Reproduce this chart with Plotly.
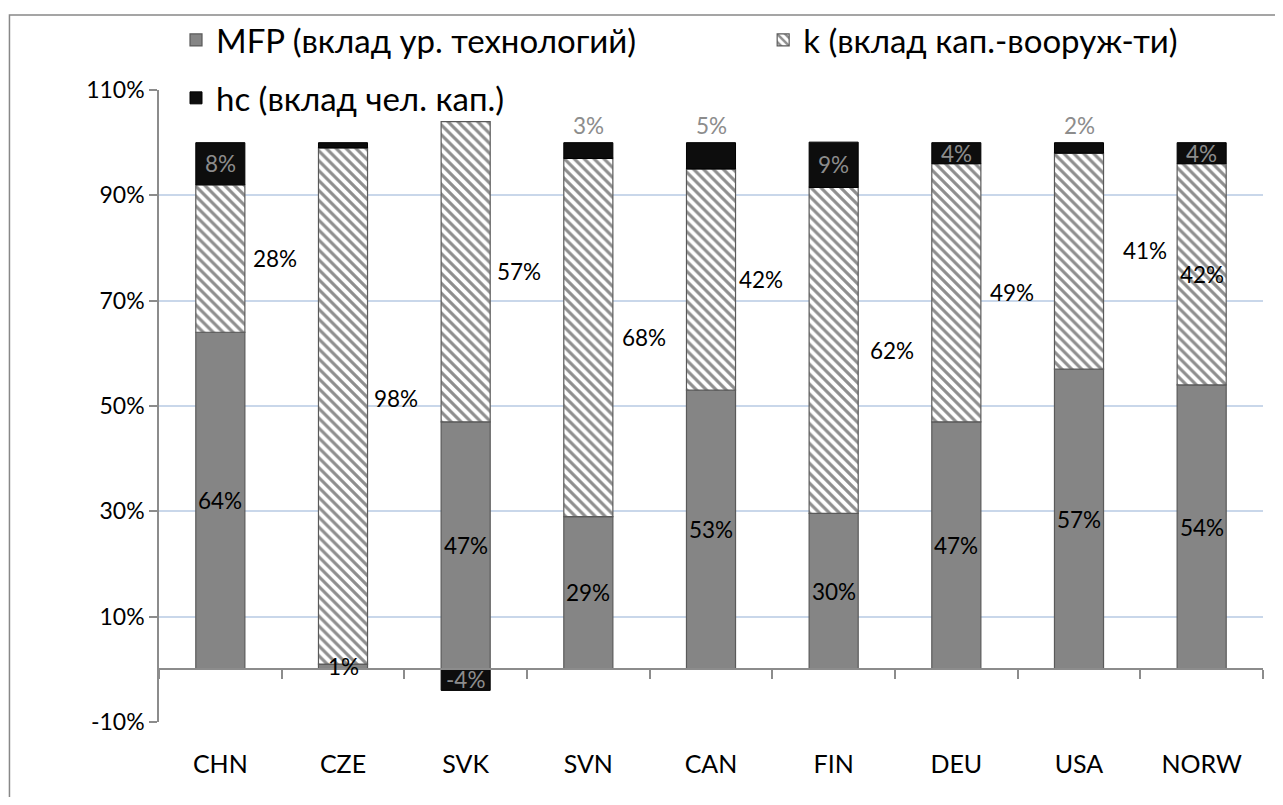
import plotly.graph_objects as go

# ---- data ----
countries = ["CHN", "CZE", "SVK", "SVN", "CAN", "FIN", "DEU", "USA", "NORW"]
mfp = [64, 1, 47, 29, 53, 29.6, 47, 57, 54]       # MFP (вклад ур. технологий), %
k = [28, 98, 57, 68, 42, 61.9, 49, 41, 42]         # k (вклад кап.-вооруж-ти), %
hc = [8, 1, -4, 3, 5, 8.6, 4, 2, 4]                # hc (вклад чел. кап.), %
y_ticks = [-10, 10, 30, 50, 70, 90, 110]
y_tick_labels = [f"{v}%" for v in y_ticks]

names = ["MFP (вклад ур. технологий)", "k (вклад кап.-вооруж-ти)", "hc (вклад чел. кап.)"]

# ---- label placement (style only) ----
k_label_dx = [55, 53, 53, 56, 50, 58, 56, 66, 0]
k_label_dy = [0, 8, 0, 0, 0, 0, 0, 11, 0]
hc_label_pos = ["in", "none", "in", "out", "out", "in", "in", "out", "in"]

FONT = "Lato, 'Noto Sans', sans-serif"
LBL = 22.5
GRAY_TXT = "#8c8c8c"

fig = go.Figure()
fig.add_trace(go.Bar(
    x=countries, y=mfp, name=names[0], legend="legend", legendgroup="a",
    marker=dict(color="#858585", line=dict(color="#5a5a5a", width=1.2)),
))
fig.add_trace(go.Bar(
    x=countries, y=k, name=names[1], legend="legend2", legendgroup="b",
    marker=dict(color="white", line=dict(color="#5a5a5a", width=1.2),
                pattern=dict(shape="\\", fgcolor="#1e1e1e", bgcolor="white",
                             size=7, solidity=0.45)),
))
fig.add_trace(go.Bar(
    x=countries, y=hc, name=names[2], legend="legend", legendgroup="c",
    marker=dict(color="#0d0d0d", line=dict(color="#000000", width=1)),
))

ann = []
for i, c in enumerate(countries):
    ann.append(dict(x=c, y=mfp[i] / 2, text=f"{mfp[i]:.0f}%", showarrow=False,
                    font=dict(family=FONT, size=LBL, color="black")))
    ann.append(dict(x=c, y=mfp[i] + k[i] / 2, text=f"{k[i]:.0f}%", showarrow=False,
                    xshift=k_label_dx[i], yshift=k_label_dy[i],
                    font=dict(family=FONT, size=LBL, color="black")))
    pos = hc_label_pos[i]
    if pos == "in":
        base = mfp[i] + k[i] if hc[i] > 0 else 0
        ann.append(dict(x=c, y=base + hc[i] / 2, text=f"{hc[i]:.0f}%", showarrow=False,
                        font=dict(family=FONT, size=LBL, color=GRAY_TXT)))
    elif pos == "out":
        ann.append(dict(x=c, y=mfp[i] + k[i] + hc[i], text=f"{hc[i]:.0f}%", showarrow=False,
                        yanchor="bottom", yshift=2,
                        font=dict(family=FONT, size=LBL, color=GRAY_TXT)))

# page is offset by the 8px body margin; work in screen pixels
OFF = 8
W, H = 1283 - 2 * OFF, 805 - 2 * OFF
PL, PR, PT, PB = 159, 1262.7, 90, 722   # plot area in screen px
ml, mt = PL - OFF, PT - OFF
mr = W - (PR - OFF)
mb = H - (PB - OFF)
pw, ph = PR - PL, PB - PT

def px_x(px):
    return (px - PL) / pw

def px_y(py):
    return (PB - py) / ph

shapes = [dict(type="rect", xref="paper", yref="paper",
               x0=px_x(9.5), x1=px_x(1400), y0=px_y(900), y1=px_y(15),
               line=dict(color="#888888", width=1.5), fillcolor="rgba(0,0,0,0)", layer="below")]

fig.update_layout(
    width=W, height=H,
    margin=dict(l=ml, r=mr, t=mt, b=mb, autoexpand=False),
    barmode="relative", bargap=0.6,
    paper_bgcolor="white", plot_bgcolor="white",
    font=dict(family=FONT, size=LBL, color="black"),
    annotations=ann, shapes=shapes,
    legend=dict(x=px_x(176), y=px_y(12), xanchor="left", yanchor="top",
                orientation="v", tracegroupgap=12, bgcolor="rgba(0,0,0,0)",
                font=dict(family=FONT, size=33, color="black")),
    legend2=dict(x=px_x(763), y=px_y(12), xanchor="left", yanchor="top",
                 orientation="v", bgcolor="rgba(0,0,0,0)",
                 font=dict(family=FONT, size=33, color="black")),
    xaxis=dict(
        anchor="free", position=10 / 120,
        showline=True, linecolor="#8c8c8c", linewidth=1.5,
        ticks="outside", tickson="boundaries", ticklen=9, tickcolor="#8c8c8c", tickwidth=1.5,
        showgrid=False, ticklabelstandoff=73,
        tickfont=dict(family=FONT, size=25, color="black"),
    ),
    yaxis=dict(
        range=[-10, 110], tickmode="array", tickvals=y_ticks, ticktext=y_tick_labels,
        showline=True, linecolor="#8c8c8c", linewidth=1.5,
        ticks="outside", ticklen=8, tickcolor="#8c8c8c", tickwidth=1.5,
        showgrid=True, gridcolor="#c9d7ea", gridwidth=1.5,
        zeroline=False,
        tickfont=dict(family=FONT, size=23, color="black"),
    ),
)

fig.write_html("out.html")
